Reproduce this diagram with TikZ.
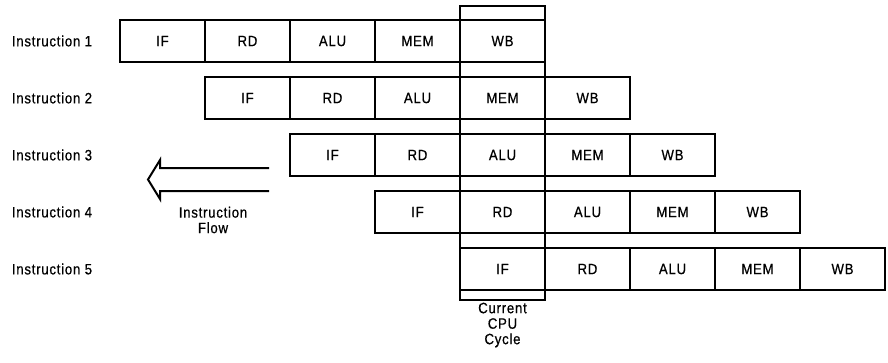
\documentclass[tikz,border=0pt]{standalone}
\usepackage{fontspec}
\setmainfont{Liberation Sans}[FakeStretch=0.88,LetterSpace=5,FakeBold=0.6]
\usetikzlibrary{positioning}

\begin{document}
\begin{tikzpicture}[x=1pt,y=-1pt,line width=2pt,
    every node/.style={font=\fontsize{15}{15.5}\selectfont},
    stage/.style={draw,minimum width=85pt,minimum height=42pt,inner sep=0pt,outer sep=0pt,anchor=west}]
                \useasboundingbox (0,0) rectangle (888,362);
                % pipeline rows
                \foreach \r in {1,...,5} {
                    \node (lab\r) at (52,{41+57*(\r-1)}) {Instruction \r};
                    \foreach \t [count=\s] in {IF,RD,ALU,MEM,WB}
                        \node[stage] (c\r\s) at ({120+85*(\r-1)+85*(\s-1)},{41+57*(\r-1)}) {\t};
                }
                % current cycle column
                \draw (460,6) rectangle (545,300);
                \node[align=center] (cpu) at (502.5,325) {Current\\CPU\\Cycle};
                % hollow arrow
                \draw (269,168) -- (160,168) -- (160,160) -- (148,179.5) -- (160,199) -- (160,191) -- (269,191);
                \node[align=center] (flow) at (213,220) {Instruction\\Flow};
            \end{tikzpicture}
\end{document}
